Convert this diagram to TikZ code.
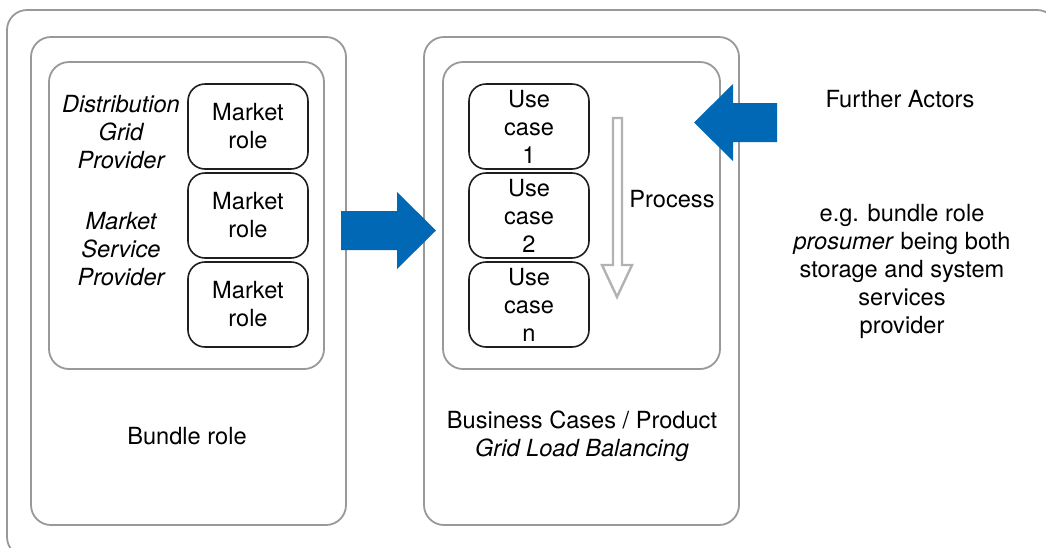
\documentclass[tikz,border=0pt]{standalone}
\usepackage{fontspec}
\setmainfont{TeX Gyre Heros}
\definecolor{arrowblue}{RGB}{0,104,180}
\begin{document}
\begin{tikzpicture}[x=1pt,y=-1pt,
  frame/.style={draw=black!40,line width=1.8pt,rounded corners=20pt},
  rolebox/.style={draw=black!88,line width=1.6pt,rounded corners=17pt,
    minimum width=120pt,minimum height=85pt,inner sep=0pt,align=center},
  txt/.style={align=center,inner sep=0pt},
  itxt/.style={txt,font=\fontsize{23.6}{28}\selectfont\itshape},
  bluearrow/.style={fill=arrowblue,draw=none},
  every node/.style={font=\fontsize{23.6}{28}\selectfont}]
\clip (0,0) rectangle (1046,547);
\fill[white] (0,0) rectangle (1046,547);

% frames
\draw[frame] (7,10) rectangle (1057,557);
\draw[frame] (31,37) rectangle (346,525);
\draw[frame] (49,62) rectangle (324,369);
\draw[frame] (424,37) rectangle (739,525);
\draw[frame] (443,62) rectangle (720,369);

% market roles
\node[rolebox] (m1) at (248,126.5) {Market\\role};
\node[rolebox] (m2) at (248,215.5) {Market\\role};
\node[rolebox] (m3) at (248,304.5) {Market\\role};
\node[itxt] (dgp) at (121,132) {Distribution\\Grid\\Provider};
\node[itxt] (msp) at (121,249) {Market\\Service\\Provider};
\node[txt] (bundle) at (187,436) {Bundle role};

% use cases
\node[rolebox] (u1) at (529,126.5) {Use\\case\\1};
\node[rolebox] (u2) at (529,215.5) {Use\\case\\2};
\node[rolebox] (u3) at (529,304.5) {Use\\case\\n};

% hollow process arrow
\draw[draw=black!30,line width=2.4pt,line join=miter]
  (613,118) -- (622,118) -- (622,265) -- (632,265) -- (617,297)
  -- (602,265) -- (613,265) -- cycle;
\node[txt] (proc) at (672,199) {Process};

\node[txt] (bc) at (582,436) {Business Cases / Product\\\textit{Grid Load Balancing}};

% block arrows
\fill[bluearrow] (341,211) -- (397,211) -- (397,192) -- (436,230.5)
  -- (397,269) -- (397,250) -- (341,250) -- cycle;
\fill[bluearrow] (777,103) -- (733,103) -- (733,84) -- (694,122.5)
  -- (733,161) -- (733,142) -- (777,142) -- cycle;

% further actors
\node[txt] (fa) at (900,99) {Further Actors};
\node[txt] (eg) at (902,271) {e.g. bundle role\\\textit{prosumer} being both\\storage and system\\services\\provider};
\end{tikzpicture}
\end{document}
